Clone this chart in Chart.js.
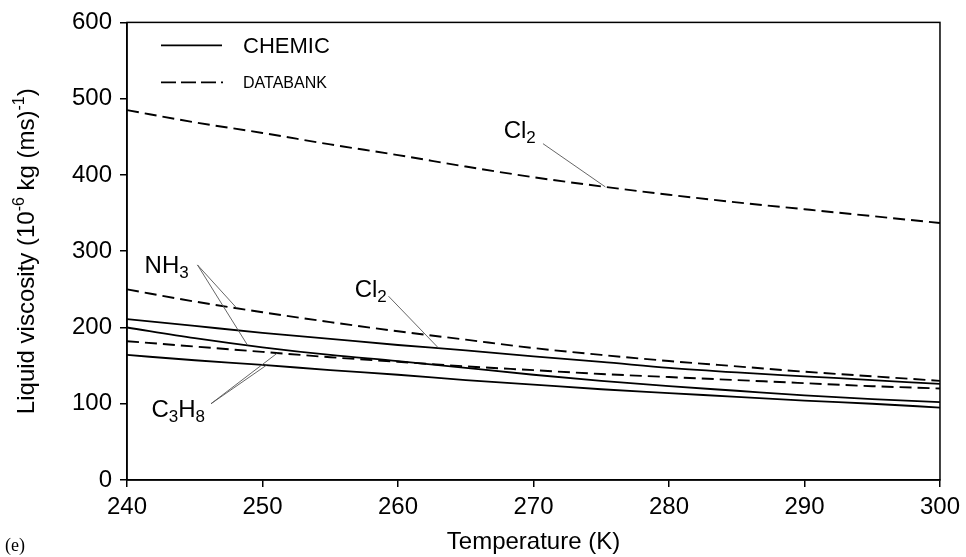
<!DOCTYPE html>
<html>
<head>
<meta charset="utf-8">
<script src="https://cdn.jsdelivr.net/npm/chart.js@4.4.0/dist/chart.umd.min.js"></script>
<style>
  html, body { margin: 0; padding: 0; background: #fff; }
</style>
</head>
<body>
<canvas id="myChart" width="966" height="557"></canvas>
<script>
// Temperatura (K) e viscosidade do liquido (10^-6 kg (ms)^-1)
const temperaturas = [240, 245, 250, 255, 260, 265, 270, 275, 280, 285, 290, 295, 300];
const cl2Databank  = [485, 469, 455, 440, 426, 411, 397, 385, 374, 364, 355, 346, 337];
const nh3Databank  = [250, 234, 220, 207, 195, 184, 173, 164, 156, 149, 142, 136, 130];
const cl2Chemic    = [211, 202, 193, 185, 177, 170, 162, 155, 147, 141, 136, 131, 126];
const nh3Chemic    = [200, 186, 174, 164, 156, 147, 138, 130, 123, 117, 111, 106, 102];
const c3h8Databank = [182, 175, 168, 161, 155, 149, 144, 139, 135, 131, 127, 123, 120];
const c3h8Chemic   = [164, 157, 151, 144, 138, 131, 125, 119, 114, 109, 104, 100, 95];
const ticksX = [240, 250, 260, 270, 280, 290, 300];
const ticksY = [0, 100, 200, 300, 400, 500, 600];

const FONTE = '"Liberation Sans", Arial, sans-serif';

function pontos(serie) {
  return temperaturas.map((t, i) => ({ x: t, y: serie[i] }));
}

function serieLinha(label, serie, tracejada) {
  return {
    label: label,
    data: pontos(serie),
    borderColor: '#000',
    borderWidth: tracejada ? 1.9 : 1.8,
    borderDash: tracejada ? [12, 6] : [],
    pointRadius: 0,
    fill: false,
    cubicInterpolationMode: 'monotone'
  };
}

// valor da serie numa temperatura qualquer (interpolacao linear)
function valorEm(serie, t) {
  for (let i = 0; i < temperaturas.length - 1; i++) {
    if (t >= temperaturas[i] && t <= temperaturas[i + 1]) {
      const f = (t - temperaturas[i]) / (temperaturas[i + 1] - temperaturas[i]);
      return serie[i] + f * (serie[i + 1] - serie[i]);
    }
  }
  return serie[serie.length - 1];
}

// rotulos com linhas de chamada: texto em partes [texto, subscrito?]
const rotulos = [
  { partes: [['Cl', false], ['2', true]], t: 267.8, v: 449, de: [270.7, 441], para: [[cl2Databank, 275.3]] },
  { partes: [['Cl', false], ['2', true]], t: 256.8, v: 240, de: [259.3, 241], para: [[cl2Chemic, 263.0]] },
  { partes: [['NH', false], ['3', true]], t: 241.3, v: 271, de: [245.2, 282], para: [[nh3Databank, 248.1], [nh3Chemic, 248.9]] },
  { partes: [['C', false], ['3', true], ['H', false], ['8', true]], t: 241.8, v: 83, de: [246.2, 100], para: [[c3h8Databank, 251.1], [c3h8Chemic, 250.3]] }
];

const extras = {
  id: 'extras',
  afterDatasetsDraw(chart) {
    const ctx = chart.ctx;
    const sx = chart.scales.x, sy = chart.scales.y;
    const area = chart.chartArea;
    ctx.save();

    // moldura superior e direita
    ctx.strokeStyle = '#000';
    ctx.lineWidth = 1.5;
    ctx.strokeRect(area.left, area.top, area.right - area.left, area.bottom - area.top);

    // linhas de chamada
    ctx.strokeStyle = '#555';
    ctx.lineWidth = 0.9;
    rotulos.forEach(r => {
      const x0 = sx.getPixelForValue(r.de[0]), y0 = sy.getPixelForValue(r.de[1]);
      r.para.forEach(([serie, t]) => {
        ctx.beginPath();
        ctx.moveTo(x0, y0);
        ctx.lineTo(sx.getPixelForValue(t), sy.getPixelForValue(valorEm(serie, t)));
        ctx.stroke();
      });
    });

    // textos dos rotulos
    ctx.fillStyle = '#000';
    ctx.textBaseline = 'alphabetic';
    ctx.textAlign = 'left';
    rotulos.forEach(r => {
      let x = sx.getPixelForValue(r.t);
      const y = sy.getPixelForValue(r.v);
      r.partes.forEach(([txt, sub]) => {
        ctx.font = (sub ? '17px ' : '24px ') + FONTE;
        ctx.fillText(txt, x, sub ? y + 5 : y);
        x += ctx.measureText(txt).width;
      });
    });

    // legenda
    const lx = area.left + 34;
    ctx.strokeStyle = '#000';
    ctx.lineWidth = 1.8;
    ctx.beginPath();
    ctx.moveTo(lx, area.top + 23);
    ctx.lineTo(lx + 61, area.top + 23);
    ctx.stroke();
    ctx.setLineDash([15, 5]);
    ctx.beginPath();
    ctx.moveTo(lx, area.top + 60);
    ctx.lineTo(lx + 62, area.top + 60);
    ctx.stroke();
    ctx.setLineDash([]);
    ctx.font = '22px ' + FONTE;
    ctx.fillText('CHEMIC', lx + 82, area.top + 31);
    ctx.font = '16px ' + FONTE;
    ctx.fillText('DATABANK', lx + 82, area.top + 66);

    ctx.restore();
  },
  afterDraw(chart) {
    const ctx = chart.ctx;
    const area = chart.chartArea;
    ctx.save();
    ctx.fillStyle = '#000';

    // titulo do eixo y com sobrescritos
    const partes = [['Liquid viscosity (10', false], ['-6', true], [' kg (ms)', false], ['-1', true], [')', false]];
    let total = 0;
    partes.forEach(([txt, sup]) => {
      ctx.font = (sup ? '16px ' : '24px ') + FONTE;
      total += ctx.measureText(txt).width;
    });
    ctx.translate(34, (area.top + area.bottom) / 2);
    ctx.rotate(-Math.PI / 2);
    ctx.textBaseline = 'alphabetic';
    ctx.textAlign = 'left';
    let x = -total / 2;
    partes.forEach(([txt, sup]) => {
      ctx.font = (sup ? '16px ' : '24px ') + FONTE;
      ctx.fillText(txt, x, sup ? -10 : 0);
      x += ctx.measureText(txt).width;
    });
    ctx.restore();

    ctx.save();
    ctx.fillStyle = '#000';
    ctx.font = '18px "Liberation Serif", "Times New Roman", serif';
    ctx.textBaseline = 'alphabetic';
    ctx.fillText('(e)', 5, 551);
    ctx.restore();
  }
};

const config = {
  type: 'line',
  data: {
    datasets: [
      serieLinha('Cl2 DATABANK', cl2Databank, true),
      serieLinha('NH3 DATABANK', nh3Databank, true),
      serieLinha('Cl2 CHEMIC', cl2Chemic, false),
      serieLinha('NH3 CHEMIC', nh3Chemic, false),
      serieLinha('C3H8 DATABANK', c3h8Databank, true),
      serieLinha('C3H8 CHEMIC', c3h8Chemic, false)
    ]
  },
  options: {
    responsive: false,
    animation: false,
    devicePixelRatio: 1,
    layout: { padding: { top: 22, right: 23, left: 0, bottom: 0 } },
    scales: {
      x: {
        type: 'linear',
        min: 240,
        max: 300,
        afterBuildTicks: s => { s.ticks = ticksX.map(v => ({ value: v })); },
        afterFit: s => { s.height = 77; },
        ticks: { color: '#000', font: { family: FONTE, size: 24 }, padding: 6 },
        grid: { display: true, drawOnChartArea: false, drawTicks: true, tickLength: 7, color: '#000', lineWidth: 1.5 },
        border: { display: true, color: '#000', width: 1.5 },
        title: { display: true, text: 'Temperature (K)', color: '#000', font: { family: FONTE, size: 24 }, padding: { top: 0, bottom: 0 } }
      },
      y: {
        min: 0,
        max: 600,
        afterBuildTicks: s => { s.ticks = ticksY.map(v => ({ value: v })); },
        afterFit: s => { s.width = 127; },
        ticks: { color: '#000', font: { family: FONTE, size: 24 }, padding: 8 },
        grid: { display: true, drawOnChartArea: false, drawTicks: true, tickLength: 7, color: '#000', lineWidth: 1.5 },
        border: { display: true, color: '#000', width: 1.5 }
      }
    },
    plugins: {
      legend: { display: false },
      tooltip: { enabled: false }
    }
  },
  plugins: [extras]
};

window.onload = function() {
  const ctx = document.getElementById('myChart').getContext('2d');
  new Chart(ctx, config);
};
</script>
</body>
</html>
